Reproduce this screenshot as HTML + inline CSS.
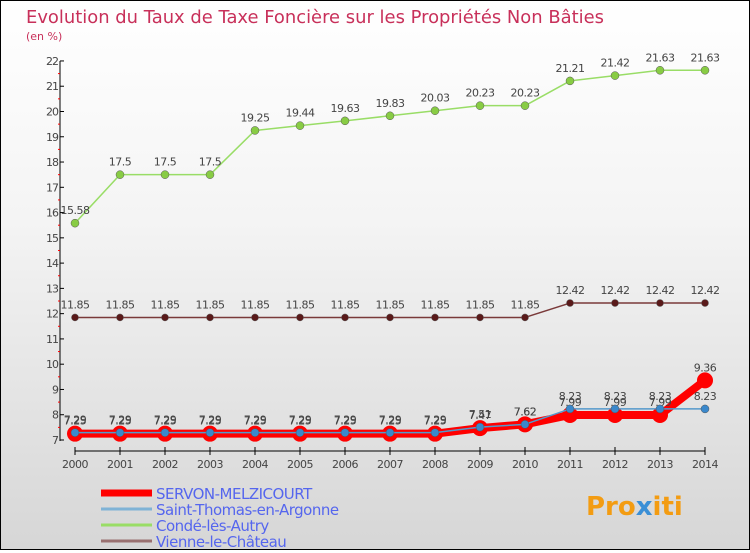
<!DOCTYPE html>
<html><head><meta charset="utf-8"><style>
body{margin:0}
#c{width:748px;height:548px;border:1px solid #000;background:linear-gradient(#fff,#f4f4f4 40%,#d6d6d6);position:relative;font-family:"DejaVu Sans","Liberation Sans",sans-serif}
svg text{font-family:"DejaVu Sans","Liberation Sans",sans-serif}
</style></head><body>
<div id="c">
<svg width="748" height="548" id="s">
<text x="25" y="22" font-size="18" fill="#c8305a" textLength="578" lengthAdjust="spacingAndGlyphs">Evolution du Taux de Taxe Foncière sur les Propriétés Non Bâties</text>
<text x="25" y="39" font-size="11" fill="#c8305a">(en %)</text>
<text x="585" y="514" font-size="26" font-weight="bold" fill="#f39c12">Pro<tspan fill="#3a8fd6">x</tspan>iti</text>
</svg>
</div>
<script>
const years=[2000,2001,2002,2003,2004,2005,2006,2007,2008,2009,2010,2011,2012,2013,2014];
const servon=[7.25,7.25,7.25,7.25,7.25,7.25,7.25,7.25,7.25,7.47,7.62,7.99,7.99,7.99,9.36];
const stThomas=[7.29,7.29,7.29,7.29,7.29,7.29,7.29,7.29,7.29,7.51,7.62,8.23,8.23,8.23,8.23];
const conde=[15.58,17.5,17.5,17.5,19.25,19.44,19.63,19.83,20.03,20.23,20.23,21.21,21.42,21.63,21.63];
const vienne=[11.85,11.85,11.85,11.85,11.85,11.85,11.85,11.85,11.85,11.85,11.85,12.42,12.42,12.42,12.42];
const yTicks=[7,8,9,10,11,12,13,14,15,16,17,18,19,20,21,22];
const legendNames=["SERVON-MELZICOURT","Saint-Thomas-en-Argonne","Condé-lès-Autry","Vienne-le-Château"];
const NS="http://www.w3.org/2000/svg",s=document.getElementById('s');
const X=i=>74+(years[i]-years[0])*45, Y=v=>439-(v-7)*25.27;
function el(t,a,p){const e=document.createElementNS(NS,t);for(const k in a)e.setAttribute(k,a[k]);(p||s).appendChild(e);return e;}
let ax=el('line',{x1:59,y1:60,x2:59,y2:440,stroke:'#000'});


yTicks.forEach(v=>{el('line',{x1:59,x2:63,y1:Y(v),y2:Y(v),stroke:'#000'});if(v<22)el('line',{x1:57,x2:59,y1:Y(v+0.5),y2:Y(v+0.5),stroke:'red'});
const t=el('text',{x:57,y:Y(v)+4,'font-size':11,'text-anchor':'end',fill:'#444','letter-spacing':'-1'});t.textContent=v;

});
let xa=el('line',{x1:X(0),y1:450,x2:X(14),y2:450,stroke:'#000'});


years.forEach((y,i)=>{el('line',{x1:X(i),x2:X(i),y1:446,y2:454,stroke:'#000'});
const t=el('text',{x:X(i),y:467,'font-size':11,'text-anchor':'middle',fill:'#444','letter-spacing':'-0.5'});t.textContent=y;

});
function series(d,col,w,r,fill,name){
const g=el('g',{});


el('polyline',{points:d.map((v,i)=>X(i)+','+Y(v)).join(' '),fill:'none',stroke:col,'stroke-width':w,'stroke-linejoin':'round'},g);
d.forEach((v,i)=>{const c=el('circle',{cx:X(i),cy:Y(v),r:r,fill:fill,stroke:col==fill?'none':'#555','stroke-width':0.5},g);


const t=el('text',{x:X(i),y:Y(v)-9,'font-size':11,'text-anchor':'middle',fill:'#444','letter-spacing':'-0.5'},g);t.textContent=v;});}
series(conde,'#99dd66',1.5,4,'#88cc44','series-conde');
series(vienne,'#7a3a3a',1.5,3.5,'#5a1a1a','series-vienne');
series(servon,'red',8,8,'red','series-servon');
series(stThomas,'#5599cc',1.5,4,'#3a88cc','series-saint-thomas');
const lc=['red','#7fb3d6','#99dd66','#997070'],lw=[7,3,3,3];
legendNames.forEach((n,i)=>{const y=492+i*16;
el('line',{x1:100,x2:151,y1:y,y2:y,stroke:lc[i],'stroke-width':lw[i]});
const t=el('text',{x:155,y:y+6,'font-size':15,fill:'#5566ee','letter-spacing':'-0.5'});t.textContent=n;

});
</script>
</body></html>
